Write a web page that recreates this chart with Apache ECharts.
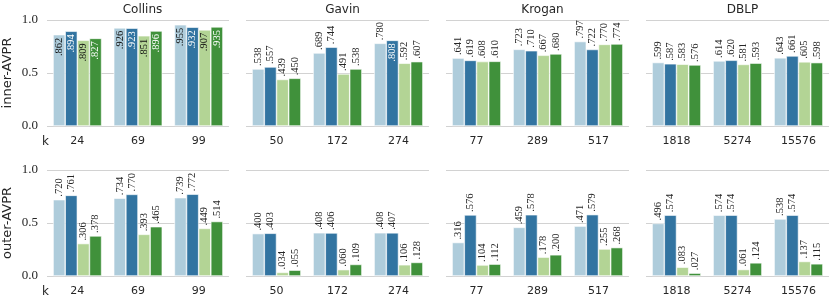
<!DOCTYPE html>
<html><head><meta charset="utf-8">
<script src="https://cdn.jsdelivr.net/npm/echarts@6/dist/echarts.min.js"></script>
<style>html,body{margin:0;padding:0;background:#fff}#c{width:831px;height:298px}</style>
</head><body><div id="c"></div>
<script>
const datasets = ['Collins', 'Gavin', 'Krogan', 'DBLP'];
const kLabels = [['24', '69', '99'], ['50', '172', '274'], ['77', '289', '517'], ['1818', '5274', '15576']];
const metrics = ['inner-AVPR', 'outer-AVPR'];
const yTicks = [0.0, 0.5, 1.0];
const seriesColors = ['#aeccdb', '#3274a1', '#b3d495', '#40913b'];

// inner-AVPR: [dataset][series][category]
const innerCollins = [[0.862, 0.926, 0.955], [0.894, 0.923, 0.932], [0.809, 0.851, 0.907], [0.827, 0.896, 0.935]];
const innerGavin   = [[0.538, 0.689, 0.780], [0.557, 0.744, 0.808], [0.439, 0.491, 0.592], [0.450, 0.538, 0.607]];
const innerKrogan  = [[0.641, 0.723, 0.797], [0.619, 0.710, 0.722], [0.608, 0.667, 0.770], [0.610, 0.680, 0.774]];
const innerDBLP    = [[0.599, 0.614, 0.643], [0.587, 0.620, 0.661], [0.583, 0.581, 0.605], [0.576, 0.593, 0.598]];
// outer-AVPR
const outerCollins = [[0.720, 0.734, 0.739], [0.761, 0.770, 0.772], [0.306, 0.393, 0.449], [0.378, 0.465, 0.514]];
const outerGavin   = [[0.400, 0.408, 0.408], [0.403, 0.406, 0.407], [0.034, 0.060, 0.106], [0.055, 0.109, 0.128]];
const outerKrogan  = [[0.316, 0.459, 0.471], [0.576, 0.578, 0.579], [0.104, 0.178, 0.255], [0.112, 0.200, 0.268]];
const outerDBLP    = [[0.496, 0.574, 0.538], [0.574, 0.574, 0.574], [0.083, 0.061, 0.137], [0.027, 0.124, 0.115]];

const rows = [[innerCollins, innerGavin, innerKrogan, innerDBLP], [outerCollins, outerGavin, outerKrogan, outerDBLP]];

const chart = echarts.init(document.getElementById('c'));
const PANEL_W = 183, GAP = 200, LEFT0 = 46, TOPS = [20, 170], H = 106;
const grids = [], xAxes = [], yAxes = [], series = [], titles = [], graphics = [];
const TXT = '#262626';
let gi = 0;
for (let r = 0; r < 2; r++) {
  for (let c = 0; c < 4; c++) {
    grids.push({left: LEFT0 + c * GAP, top: TOPS[r], width: PANEL_W, height: H, containLabel: false});
    xAxes.push({type: 'category', gridIndex: gi, data: kLabels[c],
      axisLine: {show: false}, axisTick: {show: false},
      axisLabel: {margin: 10, fontFamily: 'DejaVu Sans', fontSize: 11, color: TXT}});
    yAxes.push({type: 'value', gridIndex: gi, min: 0, max: 1, interval: 0.5,
      axisLine: {show: false}, axisTick: {show: false},
      splitLine: {lineStyle: {color: '#d2d2d2', width: 1.2}},
      axisLabel: {show: c === 0, margin: 9, fontFamily: 'Liberation Serif', fontSize: 13, color: TXT,
        formatter: v => v.toFixed(1)},
      name: c === 0 ? metrics[r] : '', nameLocation: 'middle', nameGap: 33,
      nameTextStyle: {fontFamily: 'DejaVu Sans', fontSize: 13, color: TXT}});
    const vals = rows[r][c];
    for (let s = 0; s < 4; s++) {
      series.push({type: 'bar', xAxisIndex: gi, yAxisIndex: gi, barGap: '0%', barCategoryGap: '20%',
        itemStyle: {color: seriesColors[s], borderColor: '#ffffff', borderWidth: 0.6},
        data: vals[s].map(v => {
          const inside = v > 0.8;
          return {value: v, label: {
            show: true, rotate: 90,
            position: inside ? 'insideTop' : 'top',
            align: inside ? 'right' : 'left', verticalAlign: 'middle',
            distance: inside ? 3 : 3,
            color: inside ? (s % 2 === 1 ? '#ffffff' : '#111111') : TXT,
            fontFamily: 'Liberation Serif', fontSize: 10.5,
            formatter: p => '.' + Math.round(p.value * 1000).toString().padStart(3, '0')
          }};
        })});
    }
    if (r === 0) {
      titles.push({text: datasets[c], left: LEFT0 + c * GAP + PANEL_W / 2, top: -1, textAlign: 'center',
        textStyle: {fontFamily: 'DejaVu Sans', fontSize: 12, fontWeight: 'normal', color: TXT}});
    }
    gi++;
  }
  graphics.push({type: 'text', left: 42, top: TOPS[r] + H + 10,
    style: {text: 'k', fontFamily: 'DejaVu Sans', fontSize: 12, fill: TXT}});
}

chart.setOption({
  animation: false,
  title: titles,
  grid: grids, xAxis: xAxes, yAxis: yAxes, series: series,
  graphic: graphics
});
</script></body></html>
